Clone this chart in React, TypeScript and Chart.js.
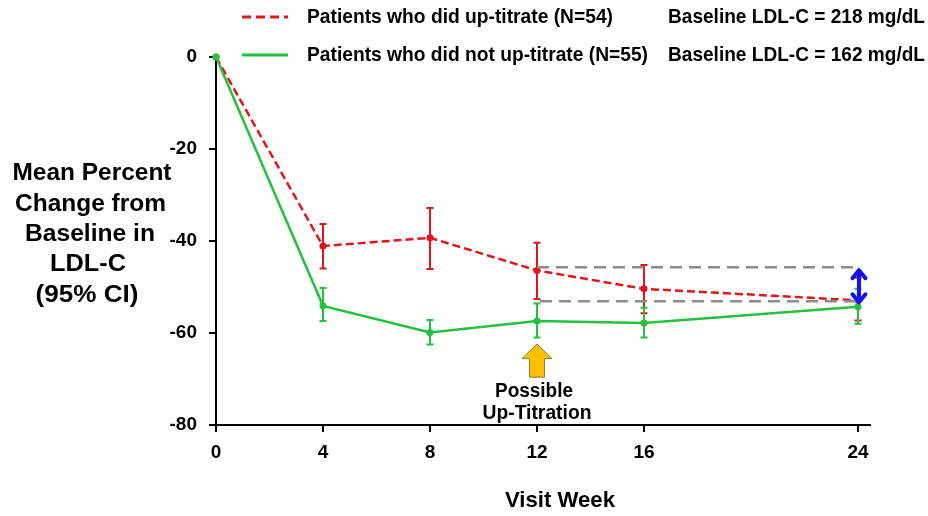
import React, { useEffect, useRef } from "react";
import { Chart, registerables } from "chart.js";
Chart.register(...registerables);

// ---- data ----
const weeks = [0, 4, 8, 12, 16, 24];
const xTickValues = [0, 4, 8, 12, 16, 24];
const yTickValues = [0, -20, -40, -60, -80];

const upMean = [0, -41.1, -39.3, -46.4, -50.4, -52.9];
const upLower = [null, -46.0, -46.1, -52.6, -55.7, -57.3];
const upUpper = [null, -36.3, -32.8, -40.4, -45.2, -48.0];

const notMean = [0, -54.1, -59.9, -57.4, -57.8, -54.3];
const notLower = [null, -57.4, -62.5, -61.0, -61.0, -58.0];
const notUpper = [null, -50.2, -57.2, -53.6, -54.5, -50.4];

const legendLabels = [
  "Patients who did up-titrate (N=54)",
  "Patients who did not up-titrate (N=55)",
];
const baselineLabels = ["Baseline LDL-C = 218 mg/dL", "Baseline LDL-C = 162 mg/dL"];
const yTitleLines = ["Mean Percent", "Change from", "Baseline in", "LDL-C", "(95% CI)"];
const xTitle = "Visit Week";
const arrowLabel = ["Possible", "Up-Titration"];

// reference (grey dashed) levels and their span in weeks
const refLevels = [-45.7, -53.1];
const refFrom = 12;
const refTo = 24;
const upTitrationWeek = 12;
const orangeTip = -62.4;
const orangeBase = -69.6;

const RED = "#E3141C";
const GREEN = "#22C33A";
const GREY = "#8C8C8C";
const BLUE = "#1010F5";
const FONT = "'Liberation Sans', Arial, Helvetica, sans-serif";

function fitText(
  ctx: CanvasRenderingContext2D,
  text: string,
  x: number,
  y: number,
  width: number,
  size: number,
  align: "left" | "center" | "right"
) {
  ctx.save();
  ctx.font = `bold ${size}px ${FONT}`;
  const w = ctx.measureText(text).width;
  const sx = width / w;
  const left = align === "left" ? x : align === "center" ? x - width / 2 : x - width;
  ctx.translate(left, y);
  ctx.scale(sx, 1);
  ctx.textAlign = "left";
  ctx.textBaseline = "middle";
  ctx.fillStyle = "#000";
  ctx.fillText(text, 0, 0);
  ctx.restore();
}

const overlayPlugin = {
  id: "overlay",
  afterDatasetsDraw(chart: any) {
    const ctx: CanvasRenderingContext2D = chart.ctx;
    const xs = chart.scales.x;
    const ys = chart.scales.y;

    // error bars
    const drawErr = (lo: (number | null)[], hi: (number | null)[], color: string) => {
      ctx.save();
      ctx.strokeStyle = color;
      ctx.lineWidth = 2;
      weeks.forEach((w, i) => {
        const l = lo[i];
        const h = hi[i];
        if (l == null || h == null) return;
        const px = xs.getPixelForValue(w);
        const py1 = ys.getPixelForValue(l);
        const py2 = ys.getPixelForValue(h);
        ctx.beginPath();
        ctx.moveTo(px, py1);
        ctx.lineTo(px, py2);
        ctx.moveTo(px - 3.5, py1);
        ctx.lineTo(px + 3.5, py1);
        ctx.moveTo(px - 3.5, py2);
        ctx.lineTo(px + 3.5, py2);
        ctx.stroke();
      });
      ctx.restore();
    };
    drawErr(upLower, upUpper, RED);
    drawErr(notLower, notUpper, GREEN);

    // grey dashed reference lines
    ctx.save();
    ctx.strokeStyle = GREY;
    ctx.lineWidth = 2.5;
    ctx.setLineDash([12, 7]);
    refLevels.forEach((v, i) => {
      const py = ys.getPixelForValue(v);
      ctx.beginPath();
      ctx.moveTo(xs.getPixelForValue(refFrom) + (i === 1 ? 3 : 0), py);
      ctx.lineTo(xs.getPixelForValue(refTo), py);
      ctx.stroke();
    });
    ctx.restore();

    // blue double arrow
    const bx = xs.getPixelForValue(refTo) + 1;
    const bTop = ys.getPixelForValue(refLevels[0]) + 1;
    const bBot = ys.getPixelForValue(refLevels[1]) + 3;
    ctx.save();
    ctx.strokeStyle = BLUE;
    ctx.lineWidth = 4;
    ctx.lineCap = "round";
    ctx.lineJoin = "round";
    ctx.beginPath();
    ctx.moveTo(bx, bTop + 2);
    ctx.lineTo(bx, bBot - 2);
    ctx.moveTo(bx - 6.5, bTop + 10);
    ctx.lineTo(bx, bTop + 2);
    ctx.lineTo(bx + 6.5, bTop + 10);
    ctx.moveTo(bx - 6.5, bBot - 10);
    ctx.lineTo(bx, bBot - 2);
    ctx.lineTo(bx + 6.5, bBot - 10);
    ctx.stroke();
    ctx.restore();

    // orange block arrow
    const ox = xs.getPixelForValue(upTitrationWeek);
    const tipY = ys.getPixelForValue(orangeTip);
    const baseY = ys.getPixelForValue(orangeBase);
    const headY = tipY + (baseY - tipY) * 0.44;
    ctx.save();
    ctx.fillStyle = "#FFC000";
    ctx.strokeStyle = "#8A7A40";
    ctx.lineWidth = 1;
    ctx.beginPath();
    ctx.moveTo(ox, tipY);
    ctx.lineTo(ox + 15, headY);
    ctx.lineTo(ox + 7.5, headY);
    ctx.lineTo(ox + 7.5, baseY);
    ctx.lineTo(ox - 7.5, baseY);
    ctx.lineTo(ox - 7.5, headY);
    ctx.lineTo(ox - 15, headY);
    ctx.closePath();
    ctx.fill();
    ctx.stroke();
    ctx.restore();
    fitText(ctx, arrowLabel[0], ox - 3, baseY + 14, 78, 20, "center");
    fitText(ctx, arrowLabel[1], ox, baseY + 36, 109, 20, "center");
  },
  afterDraw(chart: any) {
    const ctx: CanvasRenderingContext2D = chart.ctx;
    // legend
    const rows = [
      { y: 17, color: RED, dash: [9, 5] },
      { y: 55, color: GREEN, dash: [] as number[] },
    ];
    rows.forEach((r, i) => {
      ctx.save();
      ctx.strokeStyle = r.color;
      ctx.lineWidth = 3;
      ctx.setLineDash(r.dash);
      ctx.beginPath();
      ctx.moveTo(242, r.y);
      ctx.lineTo(288, r.y);
      ctx.stroke();
      ctx.restore();
      fitText(ctx, legendLabels[i], 307, r.y, i === 0 ? 306 : 341, 21, "left");
      fitText(ctx, baselineLabels[i], 668, r.y, 257, 21, "left");
    });
    // y title
    const widths = [159, 151, 130, 76, 103];
    const centers = [92, 90.5, 90, 88, 87];
    yTitleLines.forEach((t, i) => {
      fitText(ctx, t, centers[i], 174 + i * 30.3, widths[i], 23, "center");
    });
    // x title
    fitText(ctx, xTitle, 560, 501, 110, 22, "center");
  },
};

export default function App() {
  const ref = useRef<HTMLCanvasElement | null>(null);
  useEffect(() => {
    if (!ref.current) return;
    const axisCommon = {
      grid: {
        drawOnChartArea: false,
        drawTicks: true,
        tickLength: 7,
        color: "#000",
        lineWidth: 2,
      },
      border: { display: true, color: "#000", width: 2 },
    };
    const chart = new Chart(ref.current, {
      type: "line",
      data: {
        datasets: [
          {
            label: legendLabels[1],
            data: weeks.map((w, i) => ({ x: w, y: notMean[i] })),
            borderColor: GREEN,
            backgroundColor: GREEN,
            borderWidth: 2.5,
            pointRadius: 3.5,
            pointBorderWidth: 0,
            clip: false as any,
          },
          {
            label: legendLabels[0],
            data: weeks.map((w, i) => ({ x: w, y: upMean[i] })),
            borderColor: RED,
            backgroundColor: RED,
            borderWidth: 2.5,
            borderDash: [8, 4],
            pointRadius: 3.5,
            pointBorderWidth: 0,
            clip: false as any,
          },
        ],
      },
      options: {
        animation: false,
        responsive: false,
        layout: { padding: { left: 0, top: 57, right: 58, bottom: 0 } },
        plugins: {
          legend: { display: false },
          tooltip: { enabled: false },
          title: { display: false },
        },
        scales: {
          x: {
            type: "linear",
            min: 0,
            max: 24.45,
            afterBuildTicks: (s: any) => {
              s.ticks = xTickValues.map((v) => ({ value: v }));
            },
            afterFit: (s: any) => {
              s.height = 91;
            },
            ticks: {
              color: "#000",
              font: { family: FONT, size: 19, weight: "bold" },
              padding: 9,
              maxRotation: 0,
              autoSkip: false,
              callback: (v: any) => String(v),
            },
            ...axisCommon,
          },
          y: {
            type: "linear",
            min: -80,
            max: 0,
            afterBuildTicks: (s: any) => {
              s.ticks = yTickValues.map((v) => ({ value: v }));
            },
            afterFit: (s: any) => {
              s.width = 216;
            },
            ticks: {
              color: "#000",
              font: { family: FONT, size: 19, weight: "bold" },
              padding: 12,
              callback: (v: any) => String(v),
            },
            ...axisCommon,
          },
        },
      } as any,
      plugins: [overlayPlugin],
    });
    return () => chart.destroy();
  }, []);
  return (
    <div style={{ position: "fixed", left: 0, top: 0, width: 928, height: 516, background: "#fff" }}>
      <canvas ref={ref} width={928} height={516} style={{ display: "block" }} />
    </div>
  );
}
